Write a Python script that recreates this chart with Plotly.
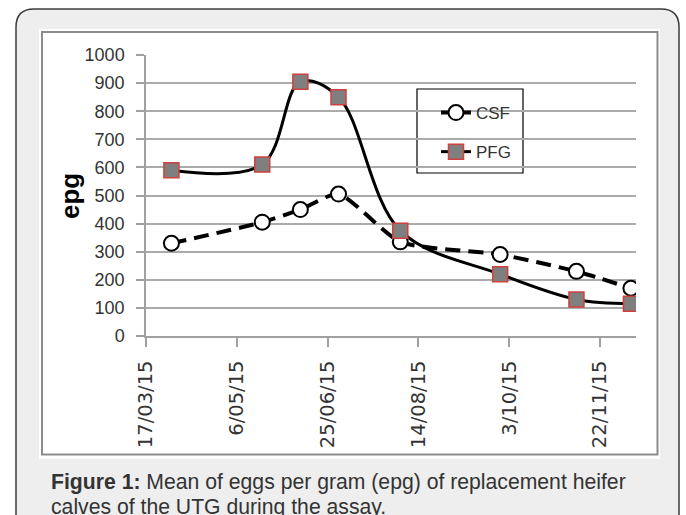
import plotly.graph_objects as go

# ---- data ----
dates = ["2015-03-31", "2015-05-20", "2015-06-10", "2015-07-01",
         "2015-08-04", "2015-09-28", "2015-11-09", "2015-12-09"]
csf = [330, 405, 450, 505, 335, 290, 230, 170]
pfg = [590, 610, 905, 850, 375, 220, 130, 115]
y_ticks = [0, 100, 200, 300, 400, 500, 600, 700, 800, 900, 1000]

W_PX, H_PX = 686, 515
L, R, T, B = 146, 636, 55, 336
PW, PH = R - L, B - T


def px(x):
    return (x - L) / PW


def py(y):
    return (B - y) / PH


fig = go.Figure()
fig.add_trace(go.Scatter(
    x=dates, y=csf, name="CSF", mode="lines+markers",
    line=dict(color="black", width=4, dash="15px,8px", shape="spline", smoothing=0.6),
    marker=dict(symbol="circle", size=15, color="white", line=dict(color="black", width=2)),
    legendgroup="a",
))
fig.add_trace(go.Scatter(
    x=dates, y=pfg, name="PFG", mode="lines+markers",
    line=dict(color="black", width=3, shape="spline", smoothing=1),
    marker=dict(symbol="square", size=15, color="#7f7f7f", line=dict(color="#d0403c", width=1.5)),
    legendgroup="b",
))

# card background with rounded top corners
cx0, cx1, ctop, cbot, r = 16, 679, 9, 540, 18
card_path = (
    f"M {px(cx0)},{py(cbot)} L {px(cx0)},{py(ctop + r)} "
    f"Q {px(cx0)},{py(ctop)} {px(cx0 + r)},{py(ctop)} "
    f"L {px(cx1 - r)},{py(ctop)} Q {px(cx1)},{py(ctop)} {px(cx1)},{py(ctop + r)} "
    f"L {px(cx1)},{py(cbot)} Z"
)
shapes = [
    dict(type="path", xref="paper", yref="paper", path=card_path,
         fillcolor="#eeeeee", line=dict(color="#3c3c3c", width=1.5), layer="below"),
    dict(type="rect", xref="paper", yref="paper",
         x0=px(39), x1=px(660), y0=py(459), y1=py(29),
         fillcolor="white", line=dict(width=0), layer="below"),
    dict(type="rect", xref="paper", yref="paper",
         x0=px(42), x1=px(657.5), y0=py(454.5), y1=py(32),
         fillcolor="rgba(0,0,0,0)", line=dict(color="#8c8c8c", width=2), layer="below"),
    # legend frame
    dict(type="rect", xref="paper", yref="paper",
         x0=px(417), x1=px(523), y0=py(173), y1=py(89),
         fillcolor="white", line=dict(color="black", width=1.2), layer="between"),
]

cap_font = dict(family="Liberation Sans", size=21.2, color="#333333")
annotations = [
    dict(xref="paper", yref="paper", x=px(49), y=py(482), xanchor="left", yanchor="middle",
         text="<b>Figure 1:</b> Mean of eggs per gram (epg) of replacement heifer",
         showarrow=False, font=cap_font),
    dict(xref="paper", yref="paper", x=px(49), y=py(507), xanchor="left", yanchor="middle",
         text="calves of the UTG during the assay.",
         showarrow=False, font=cap_font),
    dict(xref="paper", yref="paper", x=px(70), y=py(196), xanchor="center", yanchor="middle",
         text="<b>epg</b>", textangle=-90, showarrow=False,
         font=dict(family="Liberation Sans", size=26, color="black")),
]

fig.update_layout(
    width=W_PX, height=H_PX,
    margin=dict(l=L, r=W_PX - R, t=T, b=H_PX - B, pad=0),
    paper_bgcolor="white", plot_bgcolor="rgba(0,0,0,0)",
    shapes=shapes, annotations=annotations,
    showlegend=True,
    legend=dict(x=px(436), y=py(95), xanchor="left", yanchor="top",
                borderwidth=0, bgcolor="rgba(0,0,0,0)",
                font=dict(family="Liberation Sans", size=17, color="#333333"),
                traceorder="grouped", tracegroupgap=14),
    xaxis=dict(
        type="date", range=["2015-03-17", "2015-12-11 19:00"],
        tick0="2015-03-17", dtick=50 * 86400000, tickformat="%-d/%m/%y",
        tickangle=-90,
        tickfont=dict(family="DejaVu Sans", size=19.5, color="#333333"),
        ticks="outside", ticklen=9, tickcolor="#a0a0a0", tickwidth=1.5,
        showline=True, linecolor="#a0a0a0", linewidth=1.5,
        showgrid=False, zeroline=False, automargin=False, ticklabelstandoff=6,
    ),
    yaxis=dict(
        range=[0, 1000], tickvals=y_ticks,
        tickfont=dict(family="Liberation Sans", size=18, color="#333333"),
        ticks="outside", ticklen=8, tickcolor="#a0a0a0", tickwidth=1.5,
        showline=True, linecolor="#a0a0a0", linewidth=1.5,
        showgrid=True, gridcolor="#ababab", gridwidth=1.5, zeroline=False,
        automargin=False, ticklabelstandoff=8,
    ),
)

fig.write_html(
    "out.html",
    config={"displayModeBar": False},
    post_script="document.body.style.margin='0';document.body.style.overflow='hidden';",
)
